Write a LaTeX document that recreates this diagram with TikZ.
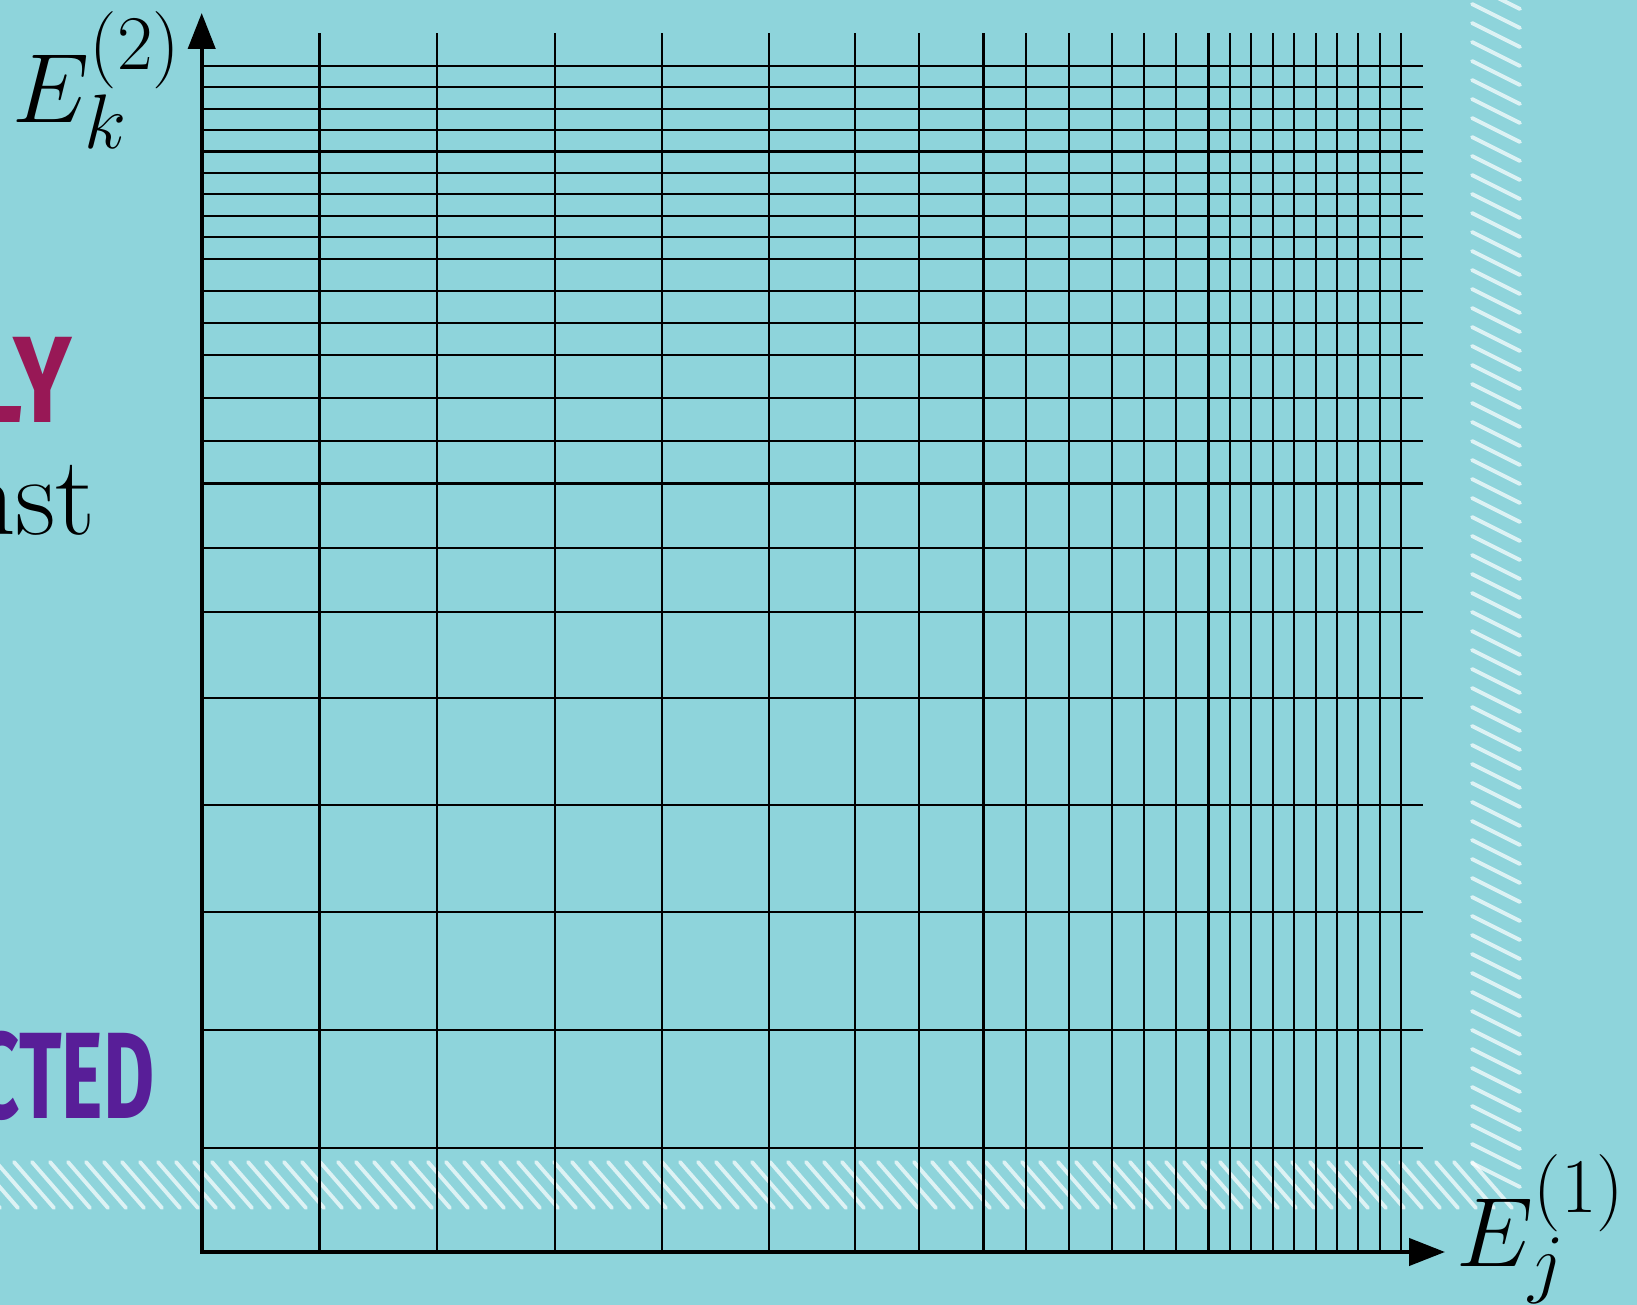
\RequirePackage{fix-cm}
\documentclass[tikz,border=0pt]{standalone}
\usepackage{fontspec}
\newfontfamily\markfont{Fira Sans}[FakeStretch=0.8]
\newfontfamily\marknarrow{Fira Sans}[FakeStretch=0.64]
\usetikzlibrary{arrows.meta}
\DeclareMathSizes{28}{28}{22}{16}
\definecolor{poolbg}{RGB}{142,212,219}
\definecolor{plumword}{RGB}{152,24,86}
\definecolor{violetword}{RGB}{88,30,152}

\begin{document}
\begin{tikzpicture}[
    gridline/.style={line width=0.6pt},
    axis/.style={line width=1.2pt,{Triangle[length=3.6mm,width=2.7mm]}-{Triangle[length=3.6mm,width=2.7mm]}},
    hatchline/.style={white,opacity=0.7,line width=1.1pt,line cap=round},
    axislabel/.style={inner sep=0pt,font=\fontsize{28}{34}\selectfont},
    markword/.style={inner sep=0pt,font=\bfseries\fontsize{35}{42}\selectfont}]
    \useasboundingbox (0,0) rectangle (16.37,13.05);
    \clip (0,0) rectangle (16.37,13.05);
    \fill[poolbg] (0,0) rectangle (16.37,13.05);
    % hatched bands
    \foreach \i in {0,...,84}
        \draw[hatchline] ({-0.4+0.18*\i},1.43) -- ++(0.40,-0.46);
    \foreach \i in {0,...,62}
        \draw[hatchline] (14.72,{13.2-0.19*\i}) -- ++(0.48,-0.24);
    % cut-off words on the left
    \node[markword,text=plumword,anchor=base east] (lyword) at (0.73,8.82) {\markfont LY};
    \node[inner sep=0pt,font=\fontsize{32}{38}\selectfont,anchor=base east] (nstword) at (0.965,7.70) {nst};
    \node[markword,text=violetword,anchor=base east] (ctedword) at (1.55,1.86) {\marknarrow CTED};
    % axes
    \coordinate (O) at (2.017,0.53);
    \coordinate (xtip) at (14.45,0.53);
    \coordinate (ytip) at (2.017,12.92);
    \begin{scope}[shift={(O)},x=1.071cm,y=1.071cm]
        \foreach \t in {1.1,2.2,3.3,4.3,5.3,6.1,6.7,7.3,7.7,8.1,8.5,8.8,9.1,9.4,9.6,9.8,10.0,10.2,10.4,10.6,10.8,11.0,11.2} {
            \draw[gridline] (\t,0) -- (\t,11.38);
            \draw[gridline] (0,\t-0.125) -- (11.4,\t-0.125);
        }
    \end{scope}
    \draw[axis] (ytip) -- (O) -- (xtip);
    \node[axislabel,anchor=base west] (ylabel) at (0.12,11.82) {$E_k^{(2)}$};
    \node[axislabel,anchor=base west] (xlabel) at (14.56,0.39) {$E_j^{(1)}$};
\end{tikzpicture}
\end{document}
